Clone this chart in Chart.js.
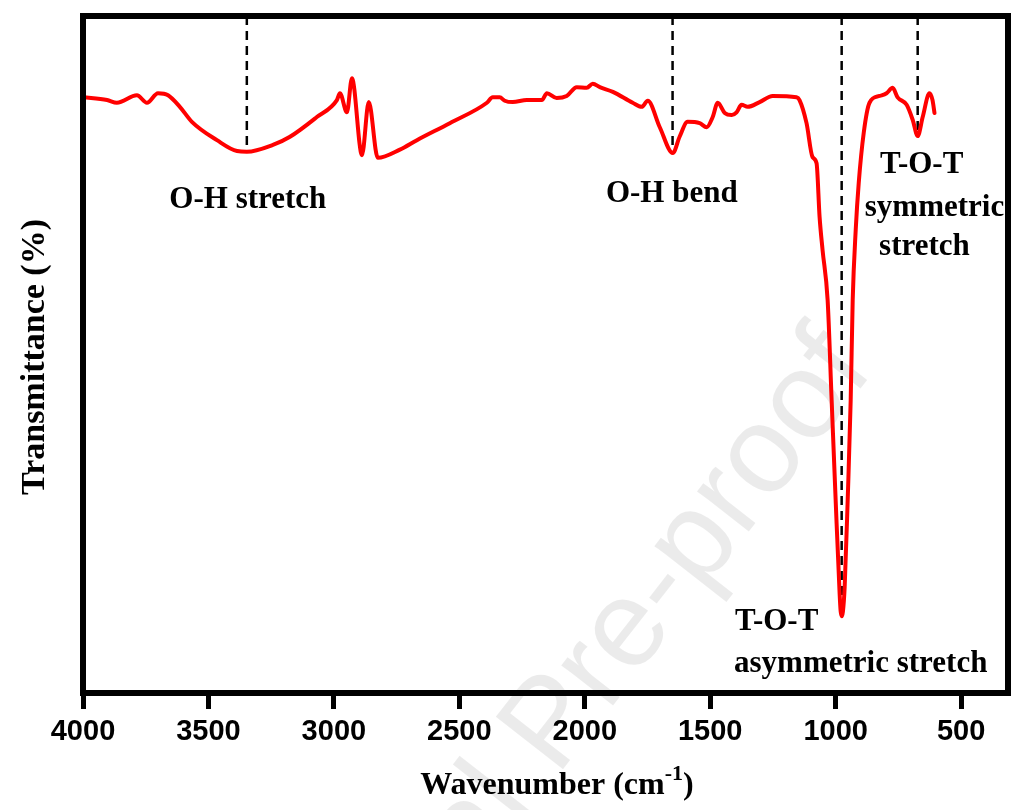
<!DOCTYPE html>
<html>
<head>
<meta charset="utf-8">
<script src="https://cdn.jsdelivr.net/npm/chart.js@4.4.1/dist/chart.umd.min.js"></script>
<style>
  html, body { margin: 0; padding: 0; background: #fff; }
  #wrap { width: 1011px; height: 810px; }
</style>
</head>
<body>
<div id="wrap"><canvas id="ftirChart" width="1011" height="810"></canvas></div>
<script>
// spectrum (wavenumber in cm-1, transmittance in arbitrary %)
const wavenumbers = [
  4000, 3904, 3865, 3785, 3745, 3701, 3661, 3614, 3566, 3466,
  3386, 3347, 3243, 3175, 3068, 2988, 2976, 2948, 2928, 2888,
  2861, 2825, 2737, 2669, 2538, 2390, 2367, 2339, 2319, 2287,
  2231, 2171, 2151, 2112, 2072, 2032, 1992, 1968, 1940, 1888,
  1809, 1773, 1749, 1701, 1649, 1622, 1590, 1542, 1514, 1490,
  1470, 1442, 1414, 1395, 1375, 1351, 1303, 1251, 1156, 1144,
  1116, 1092, 1076, 1064, 1052, 1032, 1016, 1000, 984, 980,
  976, 971, 964, 952, 940, 932, 920, 908, 888, 865,
  825, 797, 773, 753, 717, 693, 673, 653, 626, 614,
  606
];
const transmittance = [
  87.6, 87.2, 86.8, 87.9, 86.8, 88.2, 87.9, 86.2, 84.0, 81.3,
  79.7, 79.6, 80.6, 81.8, 84.7, 87.2, 88.2, 85.4, 90.4, 79.1,
  86.9, 78.7, 79.9, 81.3, 83.8, 86.8, 87.6, 87.6, 87.1, 86.9,
  87.2, 87.2, 88.2, 87.5, 87.8, 89.1, 89.0, 89.6, 89.1, 88.4,
  86.8, 86.2, 87.1, 83.2, 79.4, 81.8, 84.0, 83.8, 83.2, 84.7,
  86.8, 85.3, 85.0, 85.4, 86.5, 86.2, 86.9, 87.8, 87.6, 87.2,
  83.8, 78.8, 77.9, 70.0, 65.1, 57.8, 43.1, 28.4, 14.5, 12.0,
  11.3, 12.0, 15.6, 28.4, 43.1, 57.8, 68.1, 75.0, 82.4, 86.8,
  87.8, 88.2, 89.0, 87.6, 86.5, 84.3, 81.9, 84.7, 88.2, 87.2,
  85.3
];

// band markers (dashed lines from the top frame down to the curve)
const bandPositions = [3347, 1650, 976, 673];
const bandEnds = [79.6, 79.4, 12.9, 82.4];

// x axis
const tickValues = [4000, 3500, 3000, 2500, 2000, 1500, 1000, 500];
const xMin = 313, xMax = 4000;
const yMin = 0, yMax = 99.56;

// annotation texts, placed in data units (x = centre, y = baseline)
const noteTexts = ["O-H stretch", "O-H bend", "T-O-T", "symmetric", "stretch", "T-O-T", "asymmetric stretch"];
const noteX = [3343, 1653, 657, 606, 646, 1235, 900];
const noteY = [71.3, 72.2, 76.5, 70.1, 64.4, 9.3, 3.1];

const serif = '"Liberation Serif", "Times New Roman", serif';
const sans = '"Liberation Sans", Arial, sans-serif';

const spectrum = wavenumbers.map((w, i) => ({ x: w, y: transmittance[i] }));

const bandSets = bandPositions.map((w, i) => ({
  data: [{ x: w, y: yMax }, { x: w, y: bandEnds[i] }],
  borderColor: "#000",
  borderWidth: 2.5,
  borderDash: [9, 6],
  pointRadius: 0,
  fill: false,
  order: 2,
}));

const watermark = {
  id: "watermark",
  beforeDatasetsDraw(chart) {
    const ctx = chart.ctx;
    ctx.save();
    ctx.translate(875, 370);
    ctx.rotate(-52 * Math.PI / 180);
    ctx.font = "124px " + sans;
    ctx.fillStyle = "rgba(0,0,0,0.08)";
    ctx.textAlign = "right";
    ctx.textBaseline = "alphabetic";
    ctx.fillText("Journal Pre-proof", 0, 0);
    ctx.restore();
  },
};

const decorations = {
  id: "decorations",
  afterDraw(chart) {
    const ctx = chart.ctx;
    const area = chart.chartArea;
    const xs = chart.scales.x;
    const ys = chart.scales.y;
    ctx.save();

    // frame
    ctx.strokeStyle = "#000";
    ctx.lineWidth = 6;
    ctx.strokeRect(area.left, area.top, area.right - area.left, area.bottom - area.top);

    // band notes
    ctx.fillStyle = "#000";
    ctx.font = "bold 31px " + serif;
    ctx.textAlign = "center";
    ctx.textBaseline = "alphabetic";
    noteTexts.forEach((t, i) => {
      ctx.fillText(t, xs.getPixelForValue(noteX[i]), ys.getPixelForValue(noteY[i]));
    });

    // y title
    ctx.save();
    ctx.translate(44, 357);
    ctx.rotate(-Math.PI / 2);
    ctx.font = "bold 34px " + serif;
    ctx.textAlign = "center";
    ctx.fillText("Transmittance (%)", 0, 0);
    ctx.restore();

    // x title with superscript
    const base = "Wavenumber (cm";
    const sup = "-1";
    const tail = ")";
    ctx.font = "bold 32px " + serif;
    const wBase = ctx.measureText(base).width;
    const wTail = ctx.measureText(tail).width;
    ctx.font = "bold 22px " + serif;
    const wSup = ctx.measureText(sup).width;
    let x = 557 - (wBase + wSup + wTail) / 2;
    const baseline = 794;
    ctx.textAlign = "left";
    ctx.font = "bold 32px " + serif;
    ctx.fillText(base, x, baseline);
    x += wBase;
    ctx.font = "bold 22px " + serif;
    ctx.fillText(sup, x, baseline - 14);
    x += wSup;
    ctx.font = "bold 32px " + serif;
    ctx.fillText(tail, x, baseline);

    ctx.restore();
  },
};

new Chart(document.getElementById("ftirChart").getContext("2d"), {
  type: "line",
  data: {
    datasets: [
      {
        data: spectrum,
        borderColor: "#ff0000",
        borderWidth: 4,
        borderJoinStyle: "round",
        borderCapStyle: "round",
        pointRadius: 0,
        cubicInterpolationMode: "monotone",
        fill: false,
        order: 1,
      },
      ...bandSets,
    ],
  },
  options: {
    responsive: false,
    devicePixelRatio: 1,
    animation: false,
    layout: { padding: { left: 83, right: 3, top: 16, bottom: 0 } },
    plugins: {
      legend: { display: false },
      tooltip: { enabled: false },
    },
    scales: {
      x: {
        type: "linear",
        reverse: true,
        min: xMin,
        max: xMax,
        afterBuildTicks: (s) => {
          s.ticks = tickValues.map((v) => ({ value: v }));
        },
        afterFit: (s) => {
          s.height = 117;
        },
        grid: {
          drawOnChartArea: false,
          drawTicks: true,
          tickLength: 16,
          tickWidth: 5,
          tickColor: "#000",
        },
        border: { display: false },
        ticks: {
          color: "#000",
          font: { family: sans, size: 29, weight: "bold" },
          padding: 6,
          maxRotation: 0,
          autoSkip: false,
          callback: (v) => String(v),
        },
      },
      y: {
        display: false,
        min: yMin,
        max: yMax,
      },
    },
  },
  plugins: [watermark, decorations],
});
</script>
</body>
</html>
